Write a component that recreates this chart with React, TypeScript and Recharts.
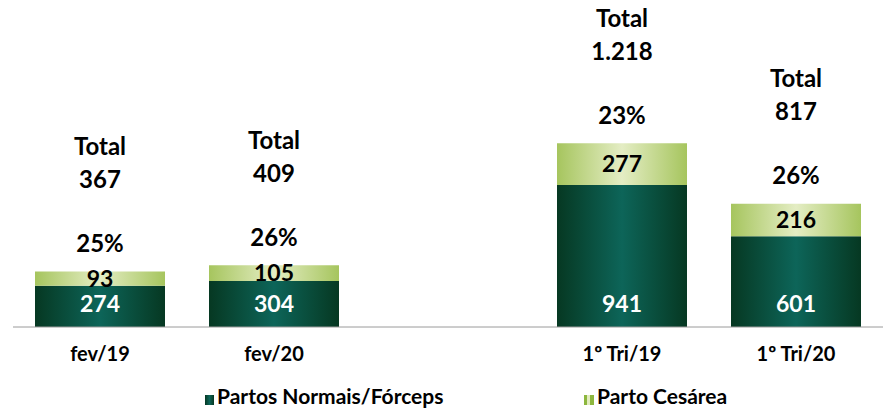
import { Bar, BarChart, LabelList, XAxis, YAxis } from 'recharts';

const categories = ['fev/19', 'fev/20', '', '1º Tri/19', '1º Tri/20'];
const normais = [274, 304, null, 941, 601];
const cesarea = [93, 105, null, 277, 216];

const fmt = (n: number) => String(n).replace(/\B(?=(\d{3})+(?!\d))/g, '.');

const data = categories.map((cat, i) => ({
  cat,
  normais: normais[i],
  cesarea: cesarea[i],
}));

const font = 'Lato, "Open Sans", sans-serif';
const labelStyle = { fontFamily: font, fontWeight: 700, fontSize: 24, fill: '#000' };

function TopLabels(props: any) {
  const { x, y, width, height, value } = props;
  const i = categories.indexOf(value);
  if (i < 0 || !value) return null;
  const n = normais[i];
  const c = cesarea[i];
  if (n == null || c == null) return null;
  const total = n + c;
  const pct = Math.round((c / total) * 100) + '%';
  const cx = x + width / 2;
  return (
    <g>
      <text x={cx} y={y + height / 2 - 1} textAnchor="middle" dominantBaseline="central" style={{ ...labelStyle, fontSize: 23 }}>{c}</text>
      <text x={cx} y={y - 29} textAnchor="middle" dominantBaseline="central" style={labelStyle}>{pct}</text>
      <text x={cx} y={y - 93} textAnchor="middle" dominantBaseline="central" style={labelStyle}>{fmt(total)}</text>
      <text x={cx} y={y - 126} textAnchor="middle" dominantBaseline="central" style={labelStyle}>Total</text>
    </g>
  );
}

function BottomLabel(props: any) {
  const { x, y, width, height, value } = props;
  if (value == null) return null;
  return (
    <text x={x + width / 2} y={y + height - 24} textAnchor="middle" dominantBaseline="central"
      style={{ ...labelStyle, fontSize: 23, fill: '#fff' }}>
      {value}
    </text>
  );
}

function CatTick(props: any) {
  const { x, payload } = props;
  return (
    <text x={x} y={353} textAnchor="middle" dominantBaseline="central"
      style={{ fontFamily: font, fontWeight: 700, fontSize: 20, fill: '#000' }}>
      {payload.value}
    </text>
  );
}

export default function App() {
  return (
    <div style={{ position: 'absolute', left: 0, top: 0, width: 883, height: 410, background: '#fff' }}>
      <BarChart width={883} height={410} data={data} barSize={130}
        margin={{ top: 10, right: 0, left: 13, bottom: 53 }}>
        <defs>
          <linearGradient id="gDark" x1="0" y1="0" x2="1" y2="0">
            <stop offset="0" stopColor="#063822" />
            <stop offset="0.5" stopColor="#0d6559" />
            <stop offset="1" stopColor="#063822" />
          </linearGradient>
          <linearGradient id="gLight" x1="0" y1="0" x2="1" y2="0">
            <stop offset="0" stopColor="#a6c55e" />
            <stop offset="0.5" stopColor="#e4edc4" />
            <stop offset="1" stopColor="#a6c55e" />
          </linearGradient>
        </defs>
        <XAxis dataKey="cat" tickLine={false} axisLine={{ stroke: '#9a9a9a' }} tick={<CatTick />} interval={0} height={30} />
        <YAxis hide domain={[0, 2100]} />
        <Bar dataKey="normais" stackId="a" fill="url(#gDark)" isAnimationActive={false}>
          <LabelList dataKey="normais" content={<BottomLabel />} />
        </Bar>
        <Bar dataKey="cesarea" stackId="a" fill="url(#gLight)" isAnimationActive={false}>
          <LabelList dataKey={(d: any) => d.cat} content={<TopLabels />} />
        </Bar>
      </BarChart>
      <div style={{ position: 'absolute', top: 383, left: 0, width: 883, fontFamily: font, fontWeight: 700, fontSize: 21, color: '#000', lineHeight: '26px' }}>
        <div style={{ position: 'absolute', left: 205, display: 'flex', alignItems: 'center' }}>
          <span style={{ display: 'inline-block', width: 9, height: 10, marginTop: 8, marginRight: 3, background: 'linear-gradient(90deg,#063822,#0d6559,#063822)' }} />
          <span>Partos Normais/Fórceps</span>
        </div>
        <div style={{ position: 'absolute', left: 584, display: 'flex', alignItems: 'center' }}>
          <span style={{ display: 'inline-block', width: 10, height: 10, marginTop: 8, marginRight: 3, background: 'linear-gradient(90deg,#8db73e 0 30%,#e2ecbf 30% 60%,#8db73e 60%)' }} />
          <span>Parto Cesárea</span>
        </div>
      </div>
    </div>
  );
}
